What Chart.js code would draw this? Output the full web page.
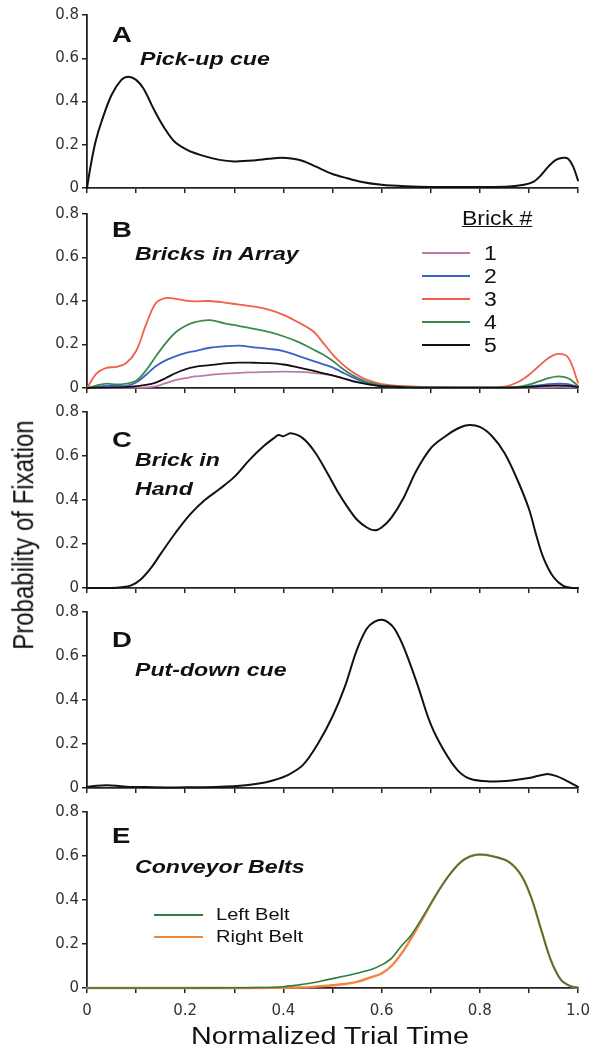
<!DOCTYPE html>
<html>
<head>
<meta charset="utf-8">
<script src="https://cdn.jsdelivr.net/npm/chart.js@4.4.1/dist/chart.umd.min.js"></script>
<style>
  body { margin: 0; background: #fff; width: 605px; height: 1057px; position: relative; overflow: hidden;
         font-family: "Liberation Sans", Arial, sans-serif; color: #111; }
  .box { position: absolute; left: 0; width: 605px; }
  .txt { position: absolute; line-height: 1; white-space: nowrap; transform-origin: 0 0; }
  .letter { font-weight: bold; font-size: 22px; transform: scaleX(1.25); }
  .title { font-weight: bold; font-style: italic; font-size: 18.5px; transform: scaleX(1.25); }
  .leg { font-size: 18px; transform: scaleX(1.18); }
  .swatch { position: absolute; height: 2px; }
</style>
</head>
<body>

<div class="box" style="top:0;height:200px"><canvas id="panelA"></canvas></div>
<div class="box" style="top:200px;height:200px"><canvas id="panelB"></canvas></div>
<div class="box" style="top:400px;height:200px"><canvas id="panelC"></canvas></div>
<div class="box" style="top:600px;height:200px"><canvas id="panelD"></canvas></div>
<div class="box" style="top:800px;height:257px"><canvas id="panelE"></canvas></div>

<div class="txt letter" style="left:112px;top:24px">A</div>
<div class="txt title" style="left:140px;top:50px">Pick-up cue</div>
<div class="txt letter" style="left:112px;top:219px">B</div>
<div class="txt title" style="left:135px;top:245px">Bricks in Array</div>
<div class="txt letter" style="left:112px;top:429px">C</div>
<div class="txt title" style="left:135px;top:451px">Brick in</div>
<div class="txt title" style="left:135px;top:480px">Hand</div>
<div class="txt letter" style="left:112px;top:629px">D</div>
<div class="txt title" style="left:135px;top:661px">Put-down cue</div>
<div class="txt letter" style="left:112px;top:825px">E</div>
<div class="txt title" style="left:135px;top:858px">Conveyor Belts</div>

<div id="legendB"></div>
<div id="legendE"></div>

<div class="txt" style="left:24px;top:535px;font-size:24px;transform-origin:50% 50%;transform:translate(-50%,-50%) rotate(-90deg) scaleY(1.2)">Probability of Fixation</div>
<div class="txt" style="left:330px;top:1025px;font-size:23px;transform-origin:50% 0;transform:translateX(-50%) scaleX(1.25)">Normalized Trial Time</div>

<script>
// A - pick-up cue
const pickupX = [0, 0.008, 0.018, 0.03, 0.05, 0.07, 0.084, 0.1, 0.115, 0.137, 0.157, 0.178, 0.205, 0.232, 0.27, 0.3, 0.34, 0.37, 0.395, 0.42, 0.44, 0.465, 0.5, 0.53, 0.56, 0.6, 0.65, 0.7, 0.8, 0.86, 0.89, 0.91, 0.925, 0.94, 0.955, 0.97, 0.98, 0.99, 1.0];
const pickupY = [0, 0.11, 0.22, 0.31, 0.43, 0.50, 0.515, 0.50, 0.46, 0.36, 0.28, 0.215, 0.175, 0.152, 0.13, 0.123, 0.127, 0.135, 0.14, 0.135, 0.125, 0.10, 0.065, 0.045, 0.028, 0.015, 0.008, 0.005, 0.005, 0.007, 0.015, 0.03, 0.06, 0.10, 0.13, 0.14, 0.135, 0.10, 0.035];

// B - bricks in array, one series per brick
const arrayX = [0, 0.02, 0.04, 0.06, 0.08, 0.1, 0.12, 0.14, 0.16, 0.18, 0.2, 0.22, 0.25, 0.28, 0.31, 0.34, 0.37, 0.4, 0.43, 0.46, 0.48, 0.5, 0.52, 0.54, 0.56, 0.58, 0.6, 0.65, 0.7, 0.75, 0.8, 0.85, 0.88, 0.9, 0.92, 0.94, 0.96, 0.98, 1.0];
const brick1 = [0, 0.001, 0.001, 0.001, 0.002, 0.002, 0.003, 0.008, 0.022, 0.036, 0.045, 0.053, 0.06, 0.066, 0.07, 0.072, 0.074, 0.075, 0.074, 0.07, 0.065, 0.058, 0.046, 0.034, 0.024, 0.015, 0.009, 0.003, 0.002, 0.001, 0.001, 0.001, 0.002, 0.002, 0.003, 0.004, 0.005, 0.004, 0.002];
const brick2 = [0, 0.005, 0.01, 0.01, 0.01, 0.025, 0.06, 0.1, 0.127, 0.145, 0.16, 0.17, 0.185, 0.192, 0.195, 0.187, 0.18, 0.17, 0.148, 0.125, 0.11, 0.095, 0.072, 0.05, 0.032, 0.02, 0.01, 0.004, 0.002, 0.002, 0.002, 0.002, 0.004, 0.008, 0.012, 0.018, 0.02, 0.018, 0.005];
const brick3 = [0, 0.068, 0.093, 0.097, 0.115, 0.17, 0.29, 0.39, 0.413, 0.41, 0.402, 0.398, 0.40, 0.393, 0.383, 0.374, 0.36, 0.336, 0.302, 0.262, 0.21, 0.155, 0.11, 0.075, 0.048, 0.03, 0.018, 0.008, 0.004, 0.003, 0.003, 0.006, 0.03, 0.06, 0.10, 0.138, 0.157, 0.14, 0.025];
const brick4 = [0, 0.012, 0.02, 0.016, 0.02, 0.033, 0.08, 0.145, 0.205, 0.255, 0.285, 0.303, 0.312, 0.297, 0.285, 0.272, 0.258, 0.238, 0.212, 0.178, 0.155, 0.125, 0.09, 0.06, 0.038, 0.022, 0.012, 0.005, 0.003, 0.002, 0.002, 0.003, 0.006, 0.015, 0.03, 0.045, 0.053, 0.045, 0.01];
const brick5 = [0, 0.002, 0.002, 0.003, 0.004, 0.008, 0.014, 0.025, 0.045, 0.068, 0.086, 0.097, 0.105, 0.113, 0.117, 0.116, 0.114, 0.108, 0.095, 0.08, 0.068, 0.058, 0.045, 0.032, 0.022, 0.014, 0.008, 0.003, 0.002, 0.002, 0.002, 0.002, 0.003, 0.005, 0.008, 0.01, 0.012, 0.01, 0.004];
const brickLabels = ['1', '2', '3', '4', '5'];
const brickColors = ['#bd7aa6', '#3b62c8', '#f0604c', '#3c8a4e', '#111111'];

// C - brick in hand
const handX = [0, 0.05, 0.07, 0.09, 0.11, 0.13, 0.15, 0.18, 0.21, 0.24, 0.27, 0.3, 0.33, 0.36, 0.38, 0.39, 0.4, 0.415, 0.44, 0.465, 0.49, 0.51, 0.53, 0.55, 0.57, 0.586, 0.6, 0.62, 0.645, 0.67, 0.7, 0.73, 0.755, 0.775, 0.8, 0.825, 0.85, 0.875, 0.9, 0.915, 0.93, 0.95, 0.97, 0.99, 1.0];
const handY = [0, 0, 0.003, 0.012, 0.04, 0.09, 0.155, 0.25, 0.335, 0.40, 0.45, 0.505, 0.58, 0.645, 0.68, 0.695, 0.69, 0.703, 0.68, 0.615, 0.52, 0.44, 0.37, 0.31, 0.275, 0.262, 0.275, 0.32, 0.41, 0.53, 0.635, 0.69, 0.725, 0.74, 0.732, 0.69, 0.615, 0.50, 0.36, 0.24, 0.135, 0.05, 0.01, 0, 0];

// D - put-down cue
const putdownX = [0, 0.02, 0.04, 0.06, 0.08, 0.12, 0.2, 0.3, 0.35, 0.38, 0.41, 0.44, 0.47, 0.5, 0.525, 0.55, 0.57, 0.585, 0.6, 0.612, 0.626, 0.646, 0.673, 0.7, 0.727, 0.755, 0.78, 0.82, 0.86, 0.9, 0.935, 0.955, 0.975, 1.0];
const putdownY = [0.005, 0.01, 0.012, 0.01, 0.006, 0.004, 0.003, 0.008, 0.02, 0.035, 0.06, 0.105, 0.2, 0.325, 0.46, 0.63, 0.725, 0.755, 0.765, 0.755, 0.725, 0.635, 0.47, 0.29, 0.17, 0.08, 0.042, 0.03, 0.033, 0.045, 0.063, 0.055, 0.035, 0.005];

// E - conveyor belts
const beltX = [0, 0.1, 0.2, 0.3, 0.35, 0.4, 0.43, 0.46, 0.49, 0.52, 0.55, 0.58, 0.6, 0.62, 0.64, 0.66, 0.68, 0.71, 0.735, 0.76, 0.78, 0.8, 0.83, 0.86, 0.885, 0.905, 0.925, 0.945, 0.965, 0.985, 1.0];
const leftBelt = [0, 0, 0, 0.001, 0.002, 0.006, 0.014, 0.024, 0.038, 0.052, 0.067, 0.085, 0.105, 0.135, 0.19, 0.24, 0.31, 0.42, 0.505, 0.57, 0.598, 0.607, 0.597, 0.572, 0.51, 0.41, 0.265, 0.125, 0.038, 0.008, 0.002];
const rightBelt = [0, 0, 0, 0, 0, 0.001, 0.002, 0.005, 0.01, 0.017, 0.028, 0.05, 0.066, 0.10, 0.155, 0.225, 0.30, 0.42, 0.505, 0.57, 0.598, 0.607, 0.597, 0.572, 0.51, 0.41, 0.265, 0.125, 0.038, 0.008, 0.002];
const beltLabels = ['Left Belt', 'Right Belt'];
const beltColors = ['#2f7d3e', '#f5843e'];

const yTicks = [0, 0.2, 0.4, 0.6, 0.8];
const xTickLabels = ['0', '0.2', '0.4', '0.6', '0.8', '1.0'];

function pts(xs, ys) {
  return xs.map((x, i) => ({ x: x, y: ys[i] }));
}

const tickFont = { family: 'DejaVu Sans', size: 15 };
const axisGrid = { drawOnChartArea: false, drawTicks: true, tickLength: 5, color: '#222', lineWidth: 1.5 };
const axisBorder = { display: true, color: '#222', width: 1.8 };

function makePanel(id, padTop, xHeight, datasets, showXLabels) {
  const ctx = document.getElementById(id).getContext('2d');
  return new Chart(ctx, {
    type: 'line',
    data: { datasets: datasets },
    options: {
      animation: false,
      responsive: true,
      maintainAspectRatio: false,
      layout: { padding: { top: padTop, left: 0, right: 27, bottom: 0 } },
      plugins: { legend: { display: false }, tooltip: { enabled: false } },
      elements: {
        point: { radius: 0 },
        line: { tension: 0.35, borderJoinStyle: 'round', borderCapStyle: 'round', capBezierPoints: true }
      },
      scales: {
        x: {
          type: 'linear', min: 0, max: 1,
          afterFit: s => { s.height = xHeight; },
          grid: axisGrid, border: axisBorder,
          ticks: {
            stepSize: 0.1, display: showXLabels, autoSkip: false, maxRotation: 0, padding: 9,
            color: '#333', font: tickFont,
            callback: v => {
              const k = Math.round(v * 10);
              return k % 2 === 0 ? xTickLabels[k / 2] : '';
            }
          }
        },
        y: {
          min: 0, max: 0.8,
          afterFit: s => { s.width = 87; },
          afterBuildTicks: s => { s.ticks = yTicks.map(v => ({ value: v })); },
          grid: axisGrid, border: axisBorder,
          ticks: { padding: 3, color: '#333', font: tickFont, callback: v => (v === 0 ? '0' : v.toFixed(1)) }
        }
      }
    }
  });
}

function line(data, color, width) {
  return { data: data, borderColor: color, borderWidth: width, fill: false, clip: 4 };
}

makePanel('panelA', 15, 8, [line(pts(pickupX, pickupY), '#111', 2)], false);

const brickSeries = [brick1, brick2, brick3, brick4, brick5];
makePanel('panelB', 14, 10,
  brickSeries.map((s, i) => line(pts(arrayX, s), brickColors[i], 1.8)).reverse(), false);

makePanel('panelC', 12, 10, [line(pts(handX, handY), '#111', 2)], false);
makePanel('panelD', 12, 10, [line(pts(putdownX, putdownY), '#111', 2)], false);
makePanel('panelE', 11, 69, [
  line(pts(beltX, leftBelt), beltColors[0], 1.6),
  line(pts(beltX, rightBelt), beltColors[1], 2.4)
], true);

// legends
const legB = document.getElementById('legendB');
let html = '<div class="txt leg" style="left:462px;top:209px;font-size:19.5px;text-decoration:underline">Brick #</div>';
const rowY = [253, 276, 299, 322, 345];
brickLabels.forEach((lab, i) => {
  html += '<div class="swatch" style="left:422px;width:48px;top:' + (rowY[i] - 1) + 'px;background:' + brickColors[i] + '"></div>';
  html += '<div class="txt leg" style="left:484px;top:' + (rowY[i] - 9) + 'px;font-size:19.5px">' + lab + '</div>';
});
legB.innerHTML = html;

const legE = document.getElementById('legendE');
html = '';
const beltRowY = [915, 937];
beltLabels.forEach((lab, i) => {
  html += '<div class="swatch" style="left:154px;width:49px;top:' + (beltRowY[i] - 1) + 'px;background:' + beltColors[i] + '"></div>';
  html += '<div class="txt leg" style="left:216px;top:' + (beltRowY[i] - 9) + 'px;font-size:17px">' + lab + '</div>';
});
legE.innerHTML = html;
</script>
</body>
</html>
